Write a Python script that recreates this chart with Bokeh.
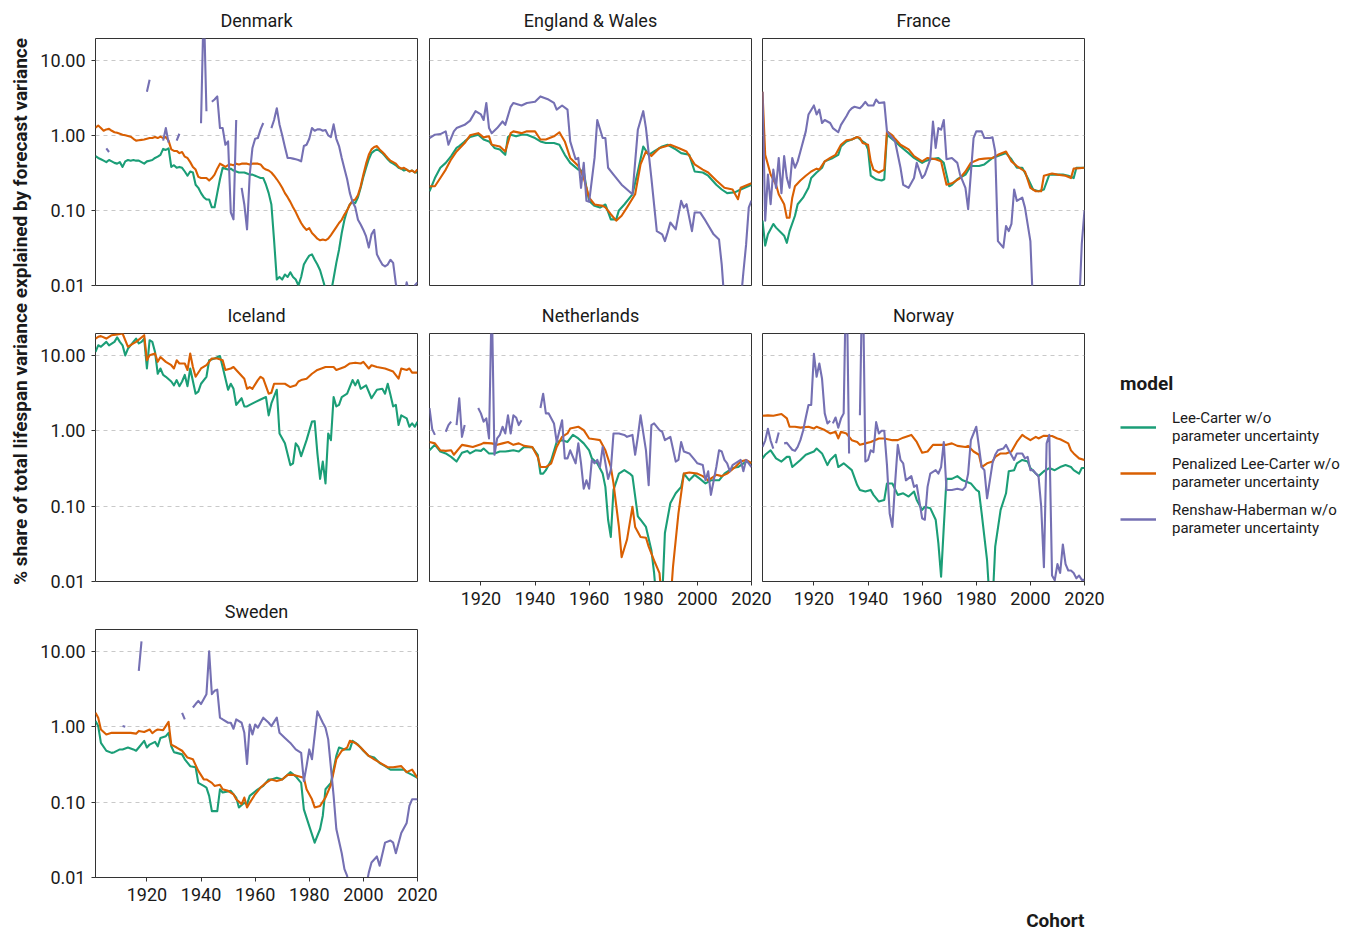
import math
from bokeh.plotting import figure
from bokeh.layouts import column
from bokeh.models import (Range1d, FixedTicker, PrintfTickFormatter, Label,
                          Legend, LegendItem, ColumnDataSource)
from bokeh.embed import file_html
from bokeh.resources import INLINE

nan = float("nan")

MODELS = ["Lee-Carter w/o\nparameter uncertainty",
          "Penalized Lee-Carter w/o\nparameter uncertainty",
          "Renshaw-Haberman w/o\nparameter uncertainty"]
COLORS = ["#1B9E77", "#D95F02", "#7570B3"]
Y_TICKS = [0.01, 0.1, 1, 10]
X_TICKS = [1920, 1940, 1960, 1980, 2000, 2020]

# ---------------- data: (cohort, % share) ----------------
DK_LC = [(1901,.53),(1902,.50),(1903,.48),(1904,.46),(1905,.44),(1906,.47),(1907,.45),(1908,.43),(1909,.42),(1910,.44),
         (1911,.38),(1912,.45),(1913,.47),(1914,.46),(1915,.47),(1916,.46),(1917,.46),(1918,.44),(1919,.42),(1920,.45),
         (1921,.46),(1922,.47),(1923,.50),(1924,.52),(1925,.55),(1926,.66),(1927,.64),(1928,.67),(1929,.38),(1930,.40),
         (1931,.37),(1932,.38),(1933,.37),(1934,.33),(1935,.29),(1936,.33),(1937,.32),(1938,.22),(1939,.20),(1940,.17),
         (1941,.15),(1942,.14),(1943,.14),(1944,.11),(1945,.11),(1946,.17),(1947,.26),(1948,.37),(1949,.36),(1950,.35),
         (1951,.36),(1952,.34),(1953,.33),(1954,.32),(1955,.32),(1956,.32),(1957,.31),(1958,.30),(1959,.30),(1960,.29),
         (1961,.28),(1962,.27),(1963,.27),(1964,.22),(1965,.17),(1966,.12),(1967,.04),(1968,.012),(1969,.013),(1970,.012),
         (1971,.014),(1972,.013),(1973,.015),(1974,.013),(1975,.012),(1976,.010),(1977,.013),(1978,.019),(1979,.022),(1980,.025),
         (1981,.026),(1982,.022),(1983,.019),(1984,.016),(1985,.012),(1986,.009),(1987,.007),(1988,.008),(1989,.0125),(1990,.02),
         (1991,.03),(1992,.05),(1993,.075),(1994,.10),(1995,.12),(1996,.13),(1997,.125),(1998,.15),(1999,.20),(2000,.28),
         (2001,.37),(2002,.48),(2003,.58),(2004,.62),(2005,.65),(2006,.62),(2007,.58),(2008,.53),(2009,.48),(2010,.44),
         (2011,.42),(2012,.40),(2013,.37),(2014,.36),(2015,.34),(2016,.35),(2017,.33),(2018,.34),(2019,.32),(2020,.32)]
DK_PLC = [(1901,1.26),(1902,1.35),(1903,1.25),(1904,1.15),(1905,1.2),(1906,1.22),(1907,1.15),(1908,1.1),(1909,1.08),(1910,1.05),
          (1911,1.02),(1912,1.0),(1913,.98),(1914,.96),(1915,.9),(1916,.85),(1917,.86),(1918,.87),(1919,.88),(1920,.9),
          (1921,.92),(1922,.92),(1923,.95),(1924,.92),(1925,.96),(1926,.92),(1927,.95),(1928,.85),(1929,.65),(1930,.62),
          (1931,.62),(1932,.58),(1933,.6),(1934,.52),(1935,.5),(1936,.44),(1937,.38),(1938,.35),(1939,.28),(1940,.27),
          (1941,.27),(1942,.27),(1943,.25),(1944,.27),(1945,.30),(1946,.36),(1947,.42),(1948,.40),(1949,.38),(1950,.40),
          (1951,.41),(1952,.40),(1953,.42),(1954,.41),(1955,.42),(1956,.42),(1957,.42),(1958,.41),(1959,.42),(1960,.42),
          (1961,.42),(1962,.41),(1963,.37),(1964,.35),(1965,.34),(1966,.32),(1967,.29),(1968,.26),(1969,.23),(1970,.20),
          (1971,.17),(1972,.15),(1973,.13),(1974,.11),(1975,.095),(1976,.08),(1977,.068),(1978,.06),(1979,.055),(1980,.058),
          (1981,.05),(1982,.046),(1983,.042),(1984,.04),(1985,.041),(1986,.04),(1987,.042),(1988,.047),(1989,.053),(1990,.06),
          (1991,.068),(1992,.075),(1993,.088),(1994,.1),(1995,.12),(1996,.135),(1997,.14),(1998,.16),(1999,.21),(2000,.3),
          (2001,.42),(2002,.55),(2003,.65),(2004,.7),(2005,.72),(2006,.65),(2007,.6),(2008,.55),(2009,.5),(2010,.46),
          (2011,.44),(2012,.42),(2013,.38),(2014,.36),(2015,.37),(2016,.35),(2017,.33),(2018,.34),(2019,.32),(2020,.35)]
DK_RH = [(1905,.67),(1906,.6),(1906.5,nan),(1920,3.8),(1921,5.5),(1921.5,nan),(1926,.85),(1927,1.25),(1928,.8),(1928.5,nan),
         (1931,.85),(1932,1.05),(1932.5,nan),(1940,1.45),(1941,60),(1942,2.1),(1943,nan),(1944,2.8),(1945,3.0),(1946,3.3),
         (1947,1.25),(1948,1.25),(1949,.75),(1950,.83),(1951,.094),(1952,.076),(1953,1.6),(1954,nan),(1955,.2),(1956,.12),
         (1957,.056),(1958,.3),(1959,.68),(1960,.9),(1961,.92),(1962,1.2),(1963,1.46),(1964,nan),(1966,1.25),(1967,1.6),
         (1968,2.3),(1969,1.4),(1970,1.0),(1971,.7),(1972,.5),(1973,.5),(1974,.49),(1975,.48),(1976,.47),(1977,.45),
         (1978,.72),(1979,.75),(1980,.9),(1981,1.25),(1982,1.15),(1983,1.2),(1984,1.2),(1985,1.15),(1986,1.18),(1987,1.0),
         (1988,.95),(1989,1.4),(1990,.9),(1991,.72),(1992,.5),(1993,.36),(1994,.26),(1995,.17),(1996,.13),(1997,.11),
         (1998,.075),(1999,.065),(2000,.055),(2001,.045),(2002,.032),(2003,.048),(2004,.055),(2005,.026),(2006,.022),(2007,.019),
         (2008,.018),(2009,.019),(2010,.022),(2011,.02),(2012,.0105),(2013,.008),(2014,.006),(2015,.007),(2016,.011),(2017,.008),
         (2018,.008),(2019,.01),(2020,.011)]

EW_LC = [(1901,.18),(1903,.27),(1905,.37),(1907,.43),(1909,.53),(1911,.68),(1912,.72),(1914,.83),(1916,.95),(1917,.97),
         (1919,1.02),(1921,.88),(1923,.83),(1925,.68),(1927,.65),(1929,.55),(1930,.95),(1931,1.02),(1933,.97),(1935,1.02),
         (1937,1.02),(1940,.92),(1942,.83),(1944,.79),(1947,.79),(1949,.75),(1951,.55),(1953,.43),(1956,.35),(1958,.33),
         (1959,.20),(1960,.134),(1962,.115),(1964,.109),(1966,.12),(1968,.076),(1970,.076),(1971,.10),(1973,.12),(1976,.164),
         (1978,.33),(1980,.71),(1982,.55),(1984,.61),(1987,.71),(1989,.75),(1992,.65),(1994,.58),(1997,.55),(1999,.33),
         (2002,.32),(2004,.29),(2007,.22),(2009,.19),(2011,.17),(2014,.175),(2016,.19),(2020,.22)]
EW_PLC = [(1901,.21),(1903,.21),(1905,.27),(1907,.35),(1909,.48),(1911,.61),(1914,.79),(1916,1.0),(1919,1.07),(1921,.94),
          (1923,.97),(1924,.75),(1927,.71),(1929,.61),(1931,1.07),(1932,1.13),(1935,1.07),(1937,1.13),(1940,1.13),(1942,.88),
          (1944,.88),(1947,.97),(1949,1.1),(1951,.83),(1953,.5),(1956,.39),(1958,.27),(1960,.148),(1962,.12),(1965,.115),
          (1966,.11),(1968,.089),(1970,.073),(1972,.085),(1974,.11),(1977,.164),(1979,.41),(1981,.61),(1983,.53),(1986,.68),
          (1988,.71),(1990,.75),(1993,.68),(1996,.61),(1999,.41),(2002,.35),(2004,.32),(2007,.25),(2010,.20),(2013,.19),
          (2015,.141),(2016,.2),(2020,.23)]
EW_RH = [(1901,.92),(1903,1.02),(1905,1.04),(1907,1.13),(1908,.75),(1910,1.13),(1911,1.25),(1914,1.38),(1916,1.57),(1918,2.1),
         (1920,1.9),(1921,1.6),(1922,2.7),(1923,1.25),(1924,1.07),(1926,1.25),(1928,1.53),(1929,1.38),(1931,2.4),(1932,2.7),
         (1935,2.5),(1937,2.7),(1940,2.8),(1942,3.3),(1945,3.0),(1947,2.7),(1948,2.2),(1950,2.5),(1952,2.2),(1953,.83),
         (1955,.48),(1956,.5),(1957,.2),(1958,.43),(1959,.134),(1960,.13),(1962,.5),(1963,1.6),(1965,.92),(1966,.92),
         (1967,.37),(1969,.30),(1972,.22),(1974,.19),(1976,.164),(1978,1.19),(1980,2.1),(1981,1.25),(1983,.27),(1985,.053),
         (1987,.048),(1988,.039),(1989,.051),(1990,.069),(1992,.056),(1994,.134),(1995,.109),(1996,.121),(1998,.053),(1999,.094),
         (2001,.094),(2003,.073),(2006,.048),(2008,.041),(2009,.019),(2010,.006),(2016,.006),(2017,.015),(2018,.035),(2019,.11),
         (2020,.135)]

FR_LC = [(1901,.073),(1902,.034),(1903,.048),(1905,.066),(1906,.059),(1908,.05),(1909,.046),(1910,.037),(1911,.053),(1913,.085),
         (1914,.121),(1916,.148),(1918,.2),(1919,.27),(1921,.32),(1923,.37),(1924,.45),(1927,.5),(1929,.55),(1930,.71),
         (1932,.83),(1934,.88),(1936,.95),(1938,.83),(1939,.79),(1940,.65),(1941,.29),(1943,.26),(1945,.25),(1946,.26),
         (1947,1.02),(1950,.83),(1952,.71),(1955,.58),(1957,.5),(1960,.43),(1961,.45),(1963,.48),(1966,.5),(1968,.43),
         (1970,.21),(1971,.22),(1973,.26),(1976,.30),(1978,.39),(1981,.39),(1983,.41),(1986,.5),(1988,.53),(1991,.58),
         (1993,.48),(1995,.37),(1997,.37),(1999,.27),(2001,.19),(2003,.18),(2005,.19),(2007,.30),(2009,.30),(2012,.30),
         (2014,.29),(2016,.27),(2017,.37),(2020,.37)]
FR_PLC = [(1901,3.8),(1902,.55),(1903,.41),(1904,.3),(1906,.22),(1907,.164),(1909,.121),(1910,.08),(1911,.08),(1912,.148),
          (1913,.21),(1915,.25),(1917,.29),(1919,.33),(1921,.36),(1922,.35),(1924,.45),(1926,.5),(1928,.55),(1930,.75),
          (1932,.86),(1934,.88),(1936,.95),(1937,.92),(1938,.79),(1940,.75),(1941,.45),(1942,.35),(1944,.32),(1946,.35),
          (1947,1.13),(1949,1.0),(1950,.9),(1952,.75),(1955,.65),(1957,.53),(1960,.45),(1962,.5),(1965,.48),(1967,.45),
          (1969,.22),(1971,.23),(1974,.27),(1976,.33),(1978,.43),(1981,.48),(1983,.49),(1986,.5),(1988,.55),(1991,.61),
          (1993,.45),(1995,.39),(1998,.33),(2000,.2),(2002,.18),(2004,.18),(2005,.29),(2008,.31),(2010,.30),(2013,.29),
          (2015,.27),(2016,.36),(2020,.37)]
FR_RH = [(1901,3.8),(1902,.073),(1903,.30),(1904,.121),(1905,.35),(1906,.2),(1907,.5),(1908,.17),(1909,.53),(1910,.27),
         (1911,.2),(1912,.5),(1913,.37),(1914,.45),(1915,.61),(1917,1.13),(1918,1.9),(1920,2.5),(1921,1.9),(1922,2.2),
         (1923,1.46),(1924,1.6),(1926,1.46),(1927,1.25),(1929,1.1),(1930,1.38),(1932,1.8),(1933,2.1),(1934,2.3),(1935,2.4),
         (1937,2.3),(1938,2.5),(1939,2.8),(1940,2.5),(1942,2.5),(1943,3.0),(1944,2.7),(1946,2.75),(1947,1.13),(1950,.83),
         (1952,.37),(1953,.22),(1955,.2),(1957,.27),(1958,.43),(1960,.27),(1961,.3),(1963,.48),(1964,1.53),(1965,.68),
         (1966,1.25),(1967,1.19),(1968,1.6),(1969,.48),(1971,.5),(1973,.43),(1974,.3),(1976,.2),(1977,.104),(1979,.92),
         (1980,1.13),(1982,1.13),(1983,.92),(1985,.92),(1986,.94),(1987,.61),(1988,.039),(1990,.032),(1991,.062),(1992,.053),
         (1993,.066),(1994,.19),(1995,.134),(1997,.148),(1998,.109),(2000,.039),(2001,.005),(2018,.005),(2019,.036),(2020,.1)]

IS_LC = [(1901,11.1),(1902,13.6),(1903,13.0),(1905,15.1),(1906,13.6),(1908,15.1),(1909,17.3),(1910,15.1),(1911,13.6),(1912,10.0),
         (1913,12.3),(1915,15.1),(1916,16.7),(1917,14.4),(1918,15.1),(1919,16.7),(1920,6.7),(1921,15.9),(1922,15.1),(1923,11.1),
         (1924,5.7),(1925,6.7),(1926,5.5),(1927,5.2),(1929,4.5),(1930,4.0),(1931,4.7),(1932,3.9),(1933,4.5),(1934,5.5),
         (1935,3.9),(1936,6.7),(1938,3.1),(1939,3.3),(1940,4.2),(1942,5.2),(1943,8.6),(1945,9.1),(1947,9.8),(1948,7.0),
         (1950,3.5),(1951,4.2),(1952,3.6),(1953,2.2),(1955,2.7),(1956,2.1),(1957,2.1),(1958,2.2),(1960,2.4),(1962,2.6),
         (1964,2.8),(1965,1.6),(1966,2.3),(1968,3.5),(1969,.92),(1971,.68),(1973,.35),(1974,.37),(1975,.68),(1976,.61),
         (1977,.46),(1979,.75),(1981,1.32),(1982,1.34),(1983,.5),(1984,.23),(1985,.39),(1986,.2),(1987,.92),(1988,.75),
         (1989,2.8),(1990,2.1),(1991,2.2),(1992,2.8),(1994,3.1),(1996,4.7),(1997,4.0),(1998,4.7),(1999,3.6),(2001,4.0),
         (2003,2.7),(2005,3.5),(2007,3.6),(2008,3.1),(2009,4.2),(2010,3.0),(2011,2.1),(2012,2.2),(2013,1.19),(2014,1.6),
         (2016,1.46),(2017,1.13),(2018,1.25),(2019,1.13),(2020,1.32)]
IS_PLC = [(1901,16.7),(1902,17.6),(1903,18.0),(1905,16.7),(1907,18.5),(1909,19.0),(1911,19.5),(1913,13.0),(1915,14.4),(1916,15.1),
          (1919,18.5),(1920,8.6),(1921,10.0),(1923,10.6),(1924,8.2),(1925,9.5),(1927,8.2),(1929,7.4),(1930,6.7),(1931,8.6),
          (1932,7.8),(1934,7.8),(1935,6.4),(1936,10.6),(1937,7.0),(1938,5.2),(1940,6.7),(1942,7.4),(1944,9.1),(1946,9.1),
          (1948,8.6),(1949,6.4),(1951,6.7),(1952,7.0),(1953,6.4),(1956,4.9),(1957,3.6),(1958,3.8),(1959,3.6),(1961,4.7),
          (1962,5.2),(1963,4.9),(1965,3.1),(1966,3.2),(1967,4.2),(1969,4.2),(1971,4.2),(1973,3.8),(1975,4.0),(1976,4.5),
          (1977,4.7),(1979,4.9),(1981,5.7),(1983,6.4),(1986,7.0),(1987,7.0),(1989,7.0),(1990,6.4),(1993,7.0),(1995,7.8),
          (1997,8.0),(1999,7.8),(2000,8.2),(2002,6.7),(2003,7.4),(2005,7.0),(2008,6.7),(2011,6.1),(2013,4.9),(2014,6.7),
          (2016,6.4),(2017,6.7),(2018,5.9),(2020,5.9)]
IS_RH = []

NL_LC = [(1901,.55),(1903,.65),(1905,.53),(1907,.5),(1909,.45),(1911,.39),(1913,.51),(1915,.54),(1916,.5),(1918,.55),
         (1920,.54),(1921,.58),(1923,.5),(1925,.5),(1927,.53),(1929,.53),(1932,.55),(1934,.53),(1936,.61),(1939,.6),
         (1941,.48),(1942,.27),(1943,.27),(1944,.30),(1946,.41),(1948,.71),(1950,.75),(1952,.71),(1954,.88),(1956,.79),
         (1958,.68),(1960,.55),(1961,.43),(1963,.37),(1965,.27),(1966,.18),(1967,.066),(1968,.039),(1969,.164),(1971,.27),
         (1973,.3),(1975,.27),(1976,.25),(1978,.073),(1979,.066),(1981,.053),(1983,.026),(1984,.013),(1985,.005),(1986,.005),
         (1987,.006),(1988,.044),(1990,.109),(1992,.148),(1994,.18),(1995,.27),(1997,.22),(1999,.26),(2001,.23),(2003,.2),
         (2005,.22),(2008,.22),(2010,.27),(2013,.32),(2015,.33),(2018,.39),(2020,.37)]
NL_PLC = [(1901,.71),(1903,.68),(1905,.55),(1907,.54),(1909,.55),(1910,.48),(1913,.65),(1915,.63),(1917,.61),(1920,.66),
          (1921,.69),(1924,.68),(1926,.65),(1928,.68),(1930,.71),(1932,.65),(1934,.68),(1936,.63),(1939,.61),(1941,.45),
          (1942,.33),(1944,.33),(1946,.37),(1948,.61),(1950,.83),(1952,.92),(1953,1.07),(1956,1.13),(1958,1.02),(1960,.79),
          (1962,.77),(1964,.75),(1966,.55),(1968,.33),(1969,.2),(1971,.053),(1972,.021),(1974,.036),(1976,.098),(1977,.053),
          (1979,.039),(1981,.038),(1982,.029),(1984,.019),(1986,.0129),(1987,.005),(1990,.005),(1991,.0158),(1993,.08),(1995,.27),
          (1997,.28),(2000,.27),(2002,.25),(2004,.22),(2007,.26),(2009,.25),(2011,.27),(2014,.33),(2016,.39),(2018,.41),
          (2020,.37)]
NL_RH = [(1901,2.0),(1902,1.05),(1903,.88),(1904,nan),(1907,.97),(1908,1.19),(1909,1.32),(1910,nan),(1911,1.19),(1912,2.7),
         (1913,.83),(1914,1.19),(1915,nan),(1919,2.0),(1920,1.7),(1921,1.32),(1922,1.46),(1923,.79),(1924,60),(1925,.48),
         (1926,.79),(1927,.88),(1928,1.13),(1929,.92),(1930,1.6),(1931,.92),(1932,1.6),(1933,1.5),(1934,1.19),(1935,1.38),
         (1936,nan),(1942,2.0),(1943,3.1),(1944,1.7),(1945,1.7),(1947,1.25),(1948,.71),(1950,1.38),(1951,.43),(1952,.43),
         (1953,.55),(1955,.37),(1956,.68),(1957,.37),(1958,.17),(1959,.22),(1960,.17),(1961,.41),(1962,.37),(1963,.41),
         (1964,.33),(1965,.61),(1967,.23),(1968,.3),(1969,.92),(1971,.92),(1973,.88),(1974,.83),(1976,.88),(1977,.48),
         (1978,.83),(1979,1.6),(1981,.55),(1982,.19),(1983,1.19),(1984,1.25),(1986,1.02),(1987,.97),(1988,.75),(1990,.83),
         (1992,.39),(1993,.41),(1994,.71),(1995,.53),(1997,.5),(1999,.41),(2000,.37),(2002,.35),(2003,.22),(2004,.29),
         (2005,.141),(2007,.33),(2008,.55),(2009,.53),(2010,.41),(2011,.37),(2012,.29),(2013,.35),(2014,.37),(2016,.41),
         (2017,.29),(2018,.41),(2020,.33)]

NO_LC = [(1901,.43),(1902,.48),(1904,.55),(1906,.43),(1908,.39),(1910,.45),(1911,.45),(1912,.33),(1915,.41),(1917,.48),
         (1920,.53),(1921,.58),(1923,.5),(1925,.35),(1926,.41),(1928,.48),(1929,.33),(1931,.37),(1934,.3),(1936,.19),
         (1937,.164),(1939,.156),(1941,.164),(1942,.141),(1944,.115),(1946,.121),(1947,.2),(1949,.2),(1951,.141),(1953,.148),
         (1955,.134),(1957,.156),(1958,.121),(1960,.089),(1961,.098),(1963,.094),(1965,.066),(1966,.032),(1967,.0116),(1968,.053),
         (1969,.23),(1971,.23),(1973,.25),(1975,.22),(1978,.2),(1980,.164),(1981,.156),(1982,.08),(1984,.019),(1985,.005),
         (1986,.005),(1987,.029),(1989,.089),(1991,.148),(1992,.29),(1994,.3),(1995,.37),(1997,.41),(1999,.39),(2000,.32),
         (2002,.27),(2003,.25),(2005,.29),(2007,.32),(2009,.3),(2011,.33),(2013,.35),(2015,.33),(2016,.3),(2018,.27),
         (2019,.32),(2020,.32)]
NO_PLC = [(1901,1.58),(1903,1.6),(1905,1.58),(1908,1.67),(1910,1.46),(1911,1.13),(1913,1.13),(1915,1.1),(1918,1.13),(1920,1.07),
          (1921,1.13),(1924,1.02),(1926,.92),(1928,.97),(1929,.79),(1930,.97),(1932,.92),(1934,.75),(1936,.71),(1937,.65),
          (1939,.68),(1941,.71),(1944,.79),(1946,.79),(1949,.75),(1951,.75),(1953,.81),(1956,.88),(1958,.71),(1960,.51),
          (1962,.53),(1964,.65),(1967,.65),(1969,.65),(1971,.68),(1973,.63),(1976,.61),(1977,.63),(1979,.53),(1981,.48),
          (1982,.33),(1984,.37),(1986,.39),(1987,.45),(1989,.5),(1991,.5),(1993,.53),(1995,.71),(1997,.88),(1998,.83),
          (2000,.75),(2002,.83),(2003,.79),(2005,.86),(2008,.85),(2010,.79),(2011,.77),(2014,.68),(2015,.55),(2016,.5),
          (2018,.43),(2020,.41)]
NO_RH = [(1901,.61),(1902,.74),(1903,1.06),(1904,.74),(1905,.58),(1905.5,nan),(1906,.68),(1907,.95),(1908,nan),(1909,.68),
         (1910,.69),(1911,.62),(1912,.56),(1913,.54),(1914,.61),(1915,.75),(1916,1.0),(1917,1.5),(1918,2.2),(1919,2.2),
         (1920,10.5),(1921,5.2),(1922,7.8),(1923,4.9),(1924,1.7),(1925,1.25),(1926,1.36),(1926.5,nan),(1927,1.25),(1928,1.5),
         (1929,1.1),(1930,1.45),(1931,1.7),(1932,200),(1933,.5),(1934,nan),(1937,1.6),(1938,200),(1939,.39),(1940,.41),
         (1941,.55),(1942,.52),(1943,1.3),(1944,.92),(1945,1.0),(1946,1.0),(1947,.35),(1948,.08),(1949,.053),(1950,.2),
         (1951,.65),(1952,.41),(1953,.37),(1954,.22),(1956,.25),(1957,.18),(1958,.19),(1960,.069),(1961,.066),(1962,.18),
         (1963,.27),(1965,.3),(1966,.27),(1967,.33),(1968,.71),(1969,.164),(1971,.164),(1973,.17),(1975,.164),(1976,.18),
         (1977,.27),(1978,.75),(1980,1.13),(1981,.61),(1982,.33),(1983,.30),(1984,.127),(1986,.37),(1987,.48),(1988,.55),
         (1990,.58),(1991,.65),(1992,.55),(1994,.41),(1995,.5),(1997,.5),(1998,.43),(1999,.45),(2000,.3),(2001,.3),
         (2002,.27),(2003,.25),(2004,.098),(2005,.0155),(2006,.68),(2007,.88),(2008,.012),(2009,.0104),(2010,.017),(2011,.013),
         (2012,.031),(2013,.017),(2014,.014),(2015,.014),(2016,.013),(2017,.011),(2018,.012),(2019,.0105),(2020,.0105)]

SE_LC = [(1901,1.19),(1902,1.02),(1903,.61),(1905,.48),(1907,.45),(1908,.46),(1910,.5),(1911,.5),(1913,.53),(1915,.5),
         (1916,.48),(1917,.53),(1919,.65),(1920,.53),(1921,.58),(1923,.63),(1924,.55),(1925,.71),(1927,.75),(1928,.83),
         (1929,.55),(1930,.46),(1931,.45),(1933,.43),(1934,.37),(1936,.3),(1938,.29),(1939,.18),(1941,.164),(1942,.156),
         (1943,.121),(1944,.076),(1946,.076),(1947,.148),(1948,.134),(1951,.141),(1953,.115),(1954,.085),(1956,.098),(1957,.094),
         (1958,.121),(1961,.148),(1963,.164),(1965,.2),(1966,.2),(1968,.21),(1970,.2),(1972,.23),(1973,.25),(1975,.22),
         (1977,.18),(1978,.08),(1980,.048),(1982,.029),(1984,.044),(1985,.066),(1986,.148),(1988,.18),(1990,.41),(1991,.53),
         (1993,.5),(1995,.5),(1996,.65),(1998,.58),(2000,.48),(2002,.41),(2004,.39),(2006,.33),(2008,.3),(2010,.27),
         (2012,.27),(2015,.27),(2016,.25),(2018,.23),(2020,.21)]
SE_PLC = [(1901,1.53),(1902,1.32),(1903,.92),(1905,.79),(1907,.83),(1909,.83),(1911,.83),(1914,.83),(1916,.81),(1917,.88),
          (1919,.85),(1921,.92),(1922,.82),(1923,.88),(1924,.92),(1926,.9),(1928,1.16),(1929,.58),(1931,.53),(1933,.48),
          (1935,.39),(1937,.37),(1939,.26),(1941,.2),(1942,.2),(1944,.18),(1945,.164),(1947,.17),(1948,.148),(1950,.141),
          (1952,.127),(1953,.109),(1955,.094),(1956,.115),(1957,.085),(1958,.098),(1960,.127),(1962,.156),(1964,.18),(1966,.2),
          (1968,.19),(1970,.2),(1972,.23),(1974,.23),(1976,.22),(1978,.21),(1979,.148),(1981,.109),(1982,.085),(1984,.089),
          (1986,.115),(1988,.17),(1990,.37),(1992,.48),(1994,.53),(1995,.65),(1997,.61),(1999,.53),(2002,.41),(2004,.37),
          (2007,.32),(2009,.29),(2011,.29),(2014,.3),(2016,.25),(2018,.27),(2020,.21)]
SE_RH = [(1911,1.02),(1912,1.0),(1912.5,nan),(1917,5.5),(1918,13.6),(1918.5,nan),(1933,1.53),(1934,1.25),(1935,nan),(1937,1.8),
         (1938,2.0),(1939,2.2),(1940,2.0),(1942,2.7),(1943,10.0),(1944,2.7),(1945,3.0),(1946,3.1),(1947,1.32),(1948,1.25),
         (1950,1.13),(1951,1.13),(1952,.94),(1953,1.25),(1955,1.13),(1956,.83),(1957,.32),(1958,1.07),(1959,.79),(1960,1.07),
         (1961,.97),(1963,1.32),(1965,1.13),(1966,1.02),(1968,1.32),(1969,.83),(1971,.71),(1973,.61),(1975,.5),(1977,.45),
         (1978,.19),(1979,.3),(1980,.5),(1981,.37),(1983,1.6),(1985,1.13),(1986,.97),(1987,.68),(1989,.121),(1990,.044),
         (1992,.021),(1993,.0129),(1994,.0105),(1995,.005),(2000,.005),(2002,.0116),(2003,.0158),(2005,.019),(2006,.0143),(2008,.029),
         (2010,.031),(2011,.029),(2012,.021),(2014,.039),(2016,.053),(2017,.089),(2018,.109),(2020,.109)]

PANELS = [
    ("Denmark", [DK_LC, DK_PLC, DK_RH]),
    ("England & Wales", [EW_LC, EW_PLC, EW_RH]),
    ("France", [FR_LC, FR_PLC, FR_RH]),
    ("Iceland", [IS_LC, IS_PLC, IS_RH]),
    ("Netherlands", [NL_LC, NL_PLC, NL_RH]),
    ("Norway", [NO_LC, NO_PLC, NO_RH]),
    ("Sweden", [SE_LC, SE_PLC, SE_RH]),
]

# ---------------- layout (pixels) ----------------
W, H = 1365, 934
PW, PH = 322, 248
FRAME_POS = {
    "Denmark": (95, 37), "England & Wales": (429, 37), "France": (762, 37),
    "Iceland": (95, 333), "Netherlands": (429, 333), "Norway": (762, 333),
    "Sweden": (95, 629),
}
LEFT_COL = {"Denmark", "Iceland", "Sweden"}
BOTTOM = {"Netherlands", "Norway", "Sweden"}
FONT = "Roboto"
TXT = "#1a1a1a"


def make_panel(name, series):
    fx, fy = FRAME_POS[name]
    p = figure(width=W, height=H, x_range=Range1d(1901, 2020), y_range=Range1d(0.01, 19.5),
               y_axis_type="log", output_backend="svg", toolbar_location=None,
               min_border_left=fx, min_border_top=fy,
               min_border_right=W - fx - PW, min_border_bottom=H - fy - PH,
               frame_align=False,
               background_fill_color=None, border_fill_color=None,
               outline_line_color="#333333", outline_line_width=1, title=name)
    p.title.align = "center"
    p.title.text_font = FONT
    p.title.text_font_size = "18px"
    p.title.text_font_style = "normal"
    p.title.text_color = TXT
    p.title.standoff = 15

    p.xgrid.visible = False
    p.ygrid.ticker = FixedTicker(ticks=Y_TICKS)
    p.ygrid.grid_line_color = "#c9c9c9"
    p.ygrid.grid_line_dash = "4 4"
    p.ygrid.grid_line_width = 1

    ya = p.yaxis[0]
    ya.ticker = FixedTicker(ticks=Y_TICKS, minor_ticks=[])
    ya.formatter = PrintfTickFormatter(format="%.2f")
    ya.major_label_text_font = FONT
    ya.major_label_text_font_size = "18px"
    ya.major_label_text_color = TXT
    ya.major_tick_out = 4
    ya.major_tick_in = 0
    ya.minor_tick_out = 0
    ya.minor_tick_in = 0
    ya.major_tick_line_color = "#333333"
    ya.axis_line_color = None
    ya.major_label_standoff = 6
    ya.visible = name in LEFT_COL

    xa = p.xaxis[0]
    xa.ticker = FixedTicker(ticks=X_TICKS, minor_ticks=[])
    xa.formatter = PrintfTickFormatter(format="%d")
    xa.major_label_text_font = FONT
    xa.major_label_text_font_size = "18px"
    xa.major_label_text_color = TXT
    xa.major_tick_out = 4
    xa.major_tick_in = 0
    xa.minor_tick_out = 0
    xa.minor_tick_in = 0
    xa.major_tick_line_color = "#333333"
    xa.axis_line_color = "#333333"
    xa.major_label_standoff = 6
    xa.visible = name in BOTTOM

    for data, color in zip(series, COLORS):
        if not data:
            continue
        pts = sorted(data, key=lambda t: t[0])
        src = ColumnDataSource(dict(cohort=[t[0] for t in pts], share=[t[1] for t in pts]))
        p.line("cohort", "share", source=src, line_color=color, line_width=2.1,
               line_join="round")
    return p


figs = [make_panel(n, s) for n, s in PANELS]

# decoration layer: axis titles + legend
deco = figure(width=W, height=H, x_range=Range1d(0, W), y_range=Range1d(H, 0),
              output_backend="svg", toolbar_location=None,
              min_border_left=0, min_border_right=0, min_border_top=0, min_border_bottom=0,
              frame_align=False,
              x_axis_location=None, y_axis_location=None,
              background_fill_color=None, border_fill_color=None, outline_line_color=None)
deco.grid.visible = False

deco.add_layout(Label(x=20, y=311, text="% share of total lifespan variance explained by forecast variance",
                      angle=math.pi / 2, text_align="center", text_baseline="middle",
                      text_font=FONT, text_font_size="19px", text_font_style="bold", text_color=TXT))
deco.add_layout(Label(x=1084, y=920, text="Cohort", text_align="right", text_baseline="middle",
                      text_font=FONT, text_font_size="19px", text_font_style="bold", text_color=TXT))

# legend key renderers (no visible data of their own)
key_src = ColumnDataSource(dict(x=[nan, nan], y=[nan, nan]))
dummy = [deco.line("x", "y", source=key_src, line_color=c, line_width=2.4) for c in COLORS]
legend = Legend(items=[LegendItem(label=m, renderers=[r]) for m, r in zip(MODELS, dummy)],
                location=(1120, 397), title="model", orientation="vertical")
legend.title_text_font = FONT
legend.title_text_font_size = "19px"
legend.title_text_font_style = "bold"
legend.title_text_color = TXT
legend.title_standoff = 14
legend.label_text_font = FONT
legend.label_text_font_size = "15px"
legend.label_text_color = TXT
legend.glyph_width = 36
legend.glyph_height = 20
legend.label_standoff = 16
legend.spacing = 10
legend.padding = 0
legend.margin = 0
legend.border_line_color = None
legend.background_fill_alpha = 0
deco.add_layout(legend)

children = figs + [deco]
for i, c in enumerate(children):
    if i > 0:
        c.margin = (-H, 0, 0, 0)
layout = column(children=children, spacing=0)

with open("out.html", "w") as fh:
    fh.write(file_html(layout, INLINE))
